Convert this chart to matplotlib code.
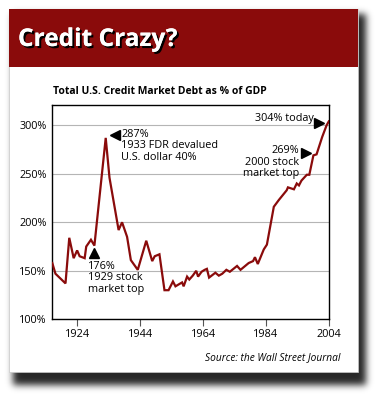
import matplotlib
matplotlib.use("Agg")
import matplotlib.pyplot as plt
from matplotlib.patches import Rectangle
import matplotlib.patheffects as pe
import numpy as np

years = [1916.0, 1917.0, 1920.2, 1921.4, 1922.8, 1923.9, 1924.7, 1926.3, 1926.8, 1928.3,
         1929.4, 1933.0, 1934.2, 1937.1, 1938.2, 1939.8, 1941.0, 1943.2, 1945.9, 1947.8,
         1948.6, 1950.1, 1951.7, 1953.0, 1954.4, 1955.2, 1957.3, 1957.8, 1958.9, 1959.6,
         1960.7, 1961.8, 1962.4, 1963.5, 1964.5, 1965.2, 1965.9, 1967.9, 1969.0, 1970.1,
         1971.4, 1972.5, 1974.8, 1975.9, 1978.5, 1979.9, 1980.5, 1981.4, 1983.3, 1984.3,
         1986.5, 1988.1, 1990.6, 1991.0, 1992.9, 1993.8, 1994.5, 1995.3, 1997.0, 1997.8,
         1999.1, 2000.1, 2001.9, 2003.3, 2004.0]
debt_pct = [158, 147, 137, 184, 163, 171, 165, 163, 175, 182,
            176, 287, 246, 192, 200, 185, 161, 151, 181, 160,
            165, 167, 130, 130, 139, 134, 138, 134, 144, 141,
            145, 150, 144, 149, 151, 152, 143, 148, 145, 147,
            151, 149, 155, 151, 158, 160, 164, 157, 172, 177,
            216, 223, 233, 236, 234, 240, 238, 243, 249, 249,
            269, 270, 288, 300, 304]

x_ticks = [1924, 1944, 1964, 1984, 2004]
y_ticks = [100, 150, 200, 250, 300]
y_labels = ["100%", "150%", "200%", "250%", "300%"]

RED = "#8a0b0b"
FONT = "Open Sans"

W, H = 383, 397
fig = plt.figure(figsize=(W / 100, H / 100), dpi=100)
fig.patch.set_facecolor("white")


def px_rect(x0, y0, x1, y1, **kw):
    # pixel coords from top-left
    return Rectangle((x0 / W, 1 - y1 / H), (x1 - x0) / W, (y1 - y0) / H,
                     transform=fig.transFigure, **kw)

# blurred drop shadow rendered as an image
mask = np.zeros((H, W))
mask[14:385, 13:366] = 1.0
sig = 3.5
k = np.arange(-12, 13)
g = np.exp(-0.5 * (k / sig) ** 2)
g /= g.sum()
blur = np.apply_along_axis(lambda r: np.convolve(r, g, mode="same"), 1, mask)
blur = np.apply_along_axis(lambda c: np.convolve(c, g, mode="same"), 0, blur)
rgba = np.zeros((H, W, 4))
rgba[..., 3] = blur * 0.85
bg = fig.add_axes([0, 0, 1, 1], zorder=-1)
bg.imshow(rgba, extent=(0, W, H, 0), interpolation="bilinear", aspect="auto")
bg.set_xlim(0, W)
bg.set_ylim(H, 0)
bg.axis("off")

# card
fig.patches.append(px_rect(9, 9, 358, 372, facecolor="white", edgecolor="#c8c8c8",
                           linewidth=0.5, zorder=1))
# banner
fig.patches.append(px_rect(9, 9, 358, 67, facecolor=RED, edgecolor="none", zorder=2))

fig.text(18 / W, 1 - 46 / H, "Credit Crazy?", color="white", fontsize=17.6,
         fontweight="bold", family=FONT, va="baseline", ha="left", zorder=3,
         path_effects=[pe.withSimplePatchShadow(offset=(1.5, -1.5), shadow_rgbFace="black",
                                                alpha=1.0), pe.Normal()])
fig.text(53 / W, 1 - 91 / H, "Total U.S. Credit Market Debt as % of GDP", color="black",
         fontsize=7.45, fontweight="bold", family=FONT, va="center", ha="left", zorder=3)

ax = fig.add_axes([52.3 / W, 1 - 319.3 / H, (328.8 - 52.3) / W, (319.3 - 105) / H])
ax.set_zorder(5)
ax.patch.set_alpha(0)
ax.plot(years, debt_pct, color=RED, linewidth=1.6, solid_joinstyle="miter", zorder=3)
ax.set_xlim(1916, 2004)
ax.set_ylim(100, 320.9)
ax.set_xticks(x_ticks)
ax.set_xticklabels([str(t) for t in x_ticks], family=FONT, fontsize=7.8)
ax.set_yticks(y_ticks)
ax.set_yticklabels(y_labels, family=FONT, fontsize=7.8)
ax.tick_params(axis="y", length=0, pad=4)
ax.tick_params(axis="x", length=5, width=0.8, color="#555555", pad=2, direction="out")
ax.grid(axis="y", color="#b5b5b5", linewidth=0.8)
ax.set_axisbelow(True)
for s in ax.spines.values():
    s.set_linewidth(1.0)
    s.set_color("black")

ann_fs = 7.8
ax.plot([1936.0], [290], marker="<", color="black", markersize=6.5, linestyle="none")
ax.text(1938.0, 296.5, "287%\n1933 FDR devalued\nU.S. dollar 40%", family=FONT,
        fontsize=ann_fs, va="top", ha="left", linespacing=1.08)
ax.plot([1929.3], [168], marker="^", color="black", markersize=6.5, linestyle="none")
ax.text(1927.3, 160.5, "176%\n1929 stock\nmarket top", family=FONT,
        fontsize=ann_fs, va="top", ha="left", linespacing=1.08)
ax.plot([2001.0], [302], marker=">", color="black", markersize=6.5, linestyle="none")
ax.text(1999.4, 306.5, "304% today", family=FONT, fontsize=ann_fs, va="center", ha="right")
ax.plot([1996.6], [271.5], marker=">", color="black", markersize=6.5, linestyle="none")
ax.text(1994.6, 279.5, "269%\n2000 stock\nmarket top", family=FONT, fontsize=ann_fs,
        va="top", ha="right", multialignment="right", linespacing=1.08)

fig.text(340 / W, 1 - 358 / H, "Source: the Wall Street Journal", family=FONT,
         fontsize=7.3, style="italic", ha="right", va="center", zorder=3)

fig.savefig("out.png", dpi=100)
